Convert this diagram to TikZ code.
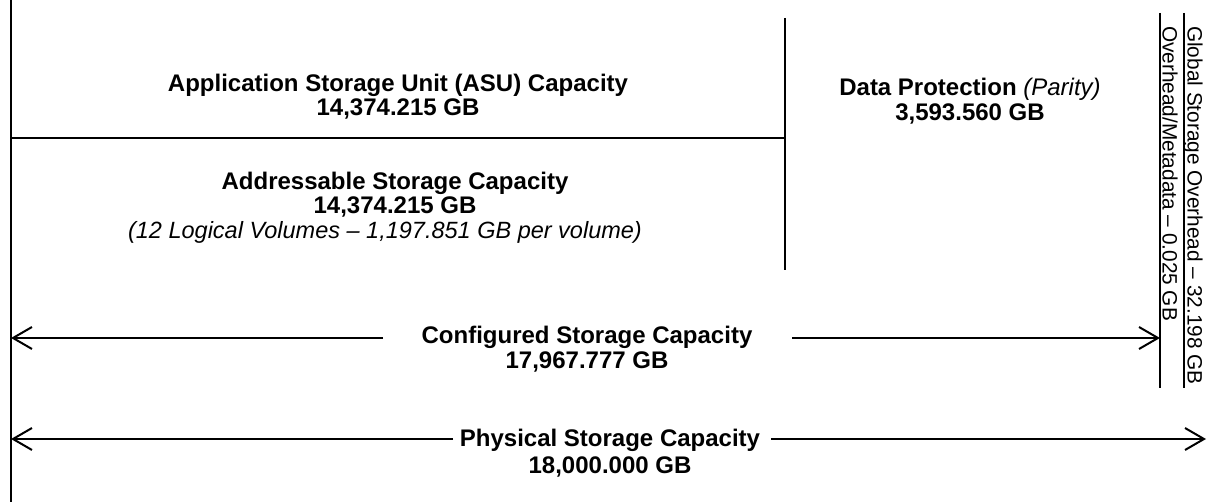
\documentclass[tikz,border=0pt]{standalone}
\usepackage{fontspec}
\setmainfont{Liberation Sans}
\usetikzlibrary{arrows.meta}
\begin{document}
\begin{tikzpicture}[x=1pt,y=-1pt,
  ln/.style={line width=2pt},
  arr/.style={line width=2pt,-{Straight Barb[length=19pt,width=22pt,line width=2pt]}},
  lbl/.style={anchor=base,font=\fontsize{24}{28}\selectfont\bfseries,inner sep=0pt},
  ilbl/.style={anchor=base,font=\fontsize{23.5}{28}\selectfont\itshape,inner sep=0pt},
  rot/.style={rotate=-90,anchor=north west,font=\fontsize{20.8}{24}\selectfont,inner sep=0pt}]
\useasboundingbox (0,0) rectangle (1207,502);
% lines
\coordinate (lt) at (11,0); \coordinate (lb) at (11,502);
\coordinate (mt) at (785,18); \coordinate (mb) at (785,270);
\coordinate (hl) at (11,138); \coordinate (hr) at (785,138);
\coordinate (r1t) at (1160,13); \coordinate (r1b) at (1160,388);
\coordinate (r2t) at (1184,13); \coordinate (r2b) at (1184,388);
\draw[ln] (lt) -- (lb);
\draw[ln] (mt) -- (mb);
\draw[ln] (hl) -- (hr);
\draw[ln] (r1t) -- (r1b);
\draw[ln] (r2t) -- (r2b);
% labels
\node[lbl] (asu1) at (398,92) {Application Storage Unit (ASU) Capacity};
\node[lbl] (asu2) at (398,116) {14,374.215 GB};
\node[lbl] (addr1) at (395,190) {Addressable Storage Capacity};
\node[lbl] (addr2) at (395,214) {14,374.215 GB};
\node[ilbl] (addr3) at (385,239) {(12 Logical Volumes – 1,197.851 GB per volume)};
\node[lbl] (dp1) at (970,96) {Data Protection \mdseries\itshape(Parity)};
\node[lbl] (dp2) at (970,121) {3,593.560 GB};
\node[rot] (gso) at (1203,26) {Global Storage Overhead – 32.198 GB};
\node[rot] (ovm) at (1178,26) {Overhead/Metadata – 0.025 GB};
\node[lbl] (cfg1) at (587,344) {Configured Storage Capacity};
\node[lbl] (cfg2) at (587,369) {17,967.777 GB};
\node[lbl] (phy1) at (610,446) {Physical Storage Capacity};
\node[lbl] (phy2) at (610,473) {18,000.000 GB};
% arrows
\coordinate (cl) at (11,338); \coordinate (cr) at (1160,338);
\coordinate (cgl) at (383,338); \coordinate (cgr) at (792,338);
\coordinate (pl) at (11,439); \coordinate (pr) at (1206,439);
\coordinate (pgl) at (453,439); \coordinate (pgr) at (771,439);
\draw[arr] (cgl) -- (cl);
\draw[arr] (cgr) -- (cr);
\draw[arr] (pgl) -- (pl);
\draw[arr] (pgr) -- (pr);
\end{tikzpicture}
\end{document}
